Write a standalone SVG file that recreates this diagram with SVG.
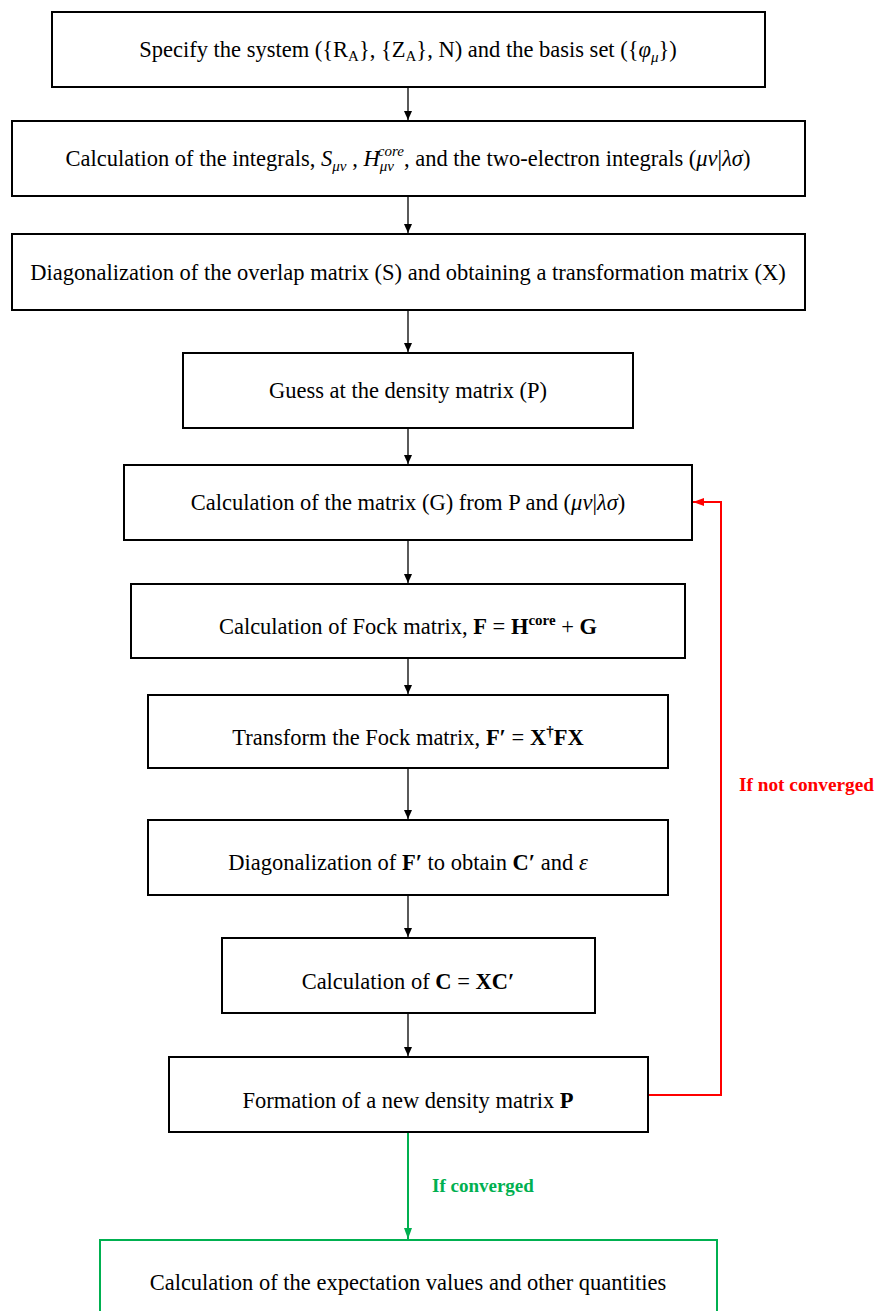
<svg xmlns="http://www.w3.org/2000/svg" width="876" height="1311" viewBox="0 0 876 1311">
<style>
.box{fill:#fff;stroke:#000;stroke-width:2}
.gbox{fill:#fff;stroke:#00B050;stroke-width:2}
.t{font-family:"Liberation Serif","Times New Roman",serif;font-size:22.5px;fill:#000;text-anchor:middle}
.m{font-style:italic}
.b{font-weight:bold}
.s{font-size:15px}
.c{stroke:#000;stroke-width:1.3;fill:none}
.red{stroke:#FF0000;stroke-width:2;fill:none}
.grn{stroke:#00B050;stroke-width:2;fill:none}
.lr{font-family:"Liberation Serif","Times New Roman",serif;font-size:19.3px;font-weight:bold;fill:#FF0000}
.lg{font-family:"Liberation Serif","Times New Roman",serif;font-size:19px;font-weight:bold;fill:#00B050}
</style>
<defs>
<marker id="ak" markerWidth="10" markerHeight="10" refX="9" refY="5" orient="auto" markerUnits="userSpaceOnUse"><path d="M0,1 L9,5 L0,9 Z" fill="#000"/></marker>
<marker id="ar" markerWidth="12" markerHeight="10" refX="11" refY="5" orient="auto" markerUnits="userSpaceOnUse"><path d="M0,1 L11,5 L0,9 Z" fill="#FF0000"/></marker>
<marker id="ag" markerWidth="12" markerHeight="10" refX="11" refY="5" orient="auto" markerUnits="userSpaceOnUse"><path d="M0,1 L11,5 L0,9 Z" fill="#00B050"/></marker>
</defs>
<g id="connectors">
<line class="c" x1="408" y1="88" x2="408" y2="120" marker-end="url(#ak)"/>
<line class="c" x1="408" y1="197" x2="408" y2="233" marker-end="url(#ak)"/>
<line class="c" x1="408" y1="311" x2="408" y2="352" marker-end="url(#ak)"/>
<line class="c" x1="408" y1="429" x2="408" y2="464" marker-end="url(#ak)"/>
<line class="c" x1="408" y1="541" x2="408" y2="583" marker-end="url(#ak)"/>
<line class="c" x1="408" y1="659" x2="408" y2="694" marker-end="url(#ak)"/>
<line class="c" x1="408" y1="769" x2="408" y2="819" marker-end="url(#ak)"/>
<line class="c" x1="408" y1="896" x2="408" y2="937" marker-end="url(#ak)"/>
<line class="c" x1="408" y1="1014" x2="408" y2="1056" marker-end="url(#ak)"/>
<polyline class="red" points="649,1095 721,1095 721,502 693,502" marker-end="url(#ar)"/>
<line class="grn" x1="408" y1="1133" x2="408" y2="1239" marker-end="url(#ag)"/>
<text class="lr" x="739" y="791">If not converged</text>
<text class="lg" x="432" y="1192">If converged</text>
</g>
<g id="n1"><rect class="box" x="52" y="12" width="713" height="75"/>
<text class="t" x="408" y="57">Specify the system ({R<tspan class="s" dy="4">A</tspan><tspan dy="-4">}, {Z</tspan><tspan class="s" dy="4">A</tspan><tspan dy="-4">}, N) and the basis set ({</tspan><tspan class="m">φ</tspan><tspan class="s m" dy="5">μ</tspan><tspan dy="-5">})</tspan></text></g>
<g id="n2"><rect class="box" x="12" y="121" width="793" height="75"/>
<text class="t" x="408" y="166">Calculation of the integrals, <tspan class="m">S</tspan><tspan class="s m" dy="5">μν</tspan><tspan dy="-5"> , </tspan><tspan class="m">H</tspan><tspan class="s m" dy="5">μν</tspan><tspan class="s m" dx="-16" dy="-15">core</tspan><tspan dy="10">, and the two-electron integrals (</tspan><tspan class="m">μν</tspan>|<tspan class="m">λσ</tspan>)</text></g>
<g id="n3"><rect class="box" x="12" y="234" width="793" height="76"/>
<text class="t" x="408" y="280">Diagonalization of the overlap matrix (S) and obtaining a transformation matrix (X)</text></g>
<g id="n4"><rect class="box" x="183" y="353" width="450" height="75"/>
<text class="t" x="408" y="398">Guess at the density matrix (P)</text></g>
<g id="n5"><rect class="box" x="124" y="465" width="568" height="75"/>
<text class="t" x="408" y="510">Calculation of the matrix (G) from P and (<tspan class="m">μν</tspan>|<tspan class="m">λσ</tspan>)</text></g>
<g id="n6"><rect class="box" x="131" y="584" width="554" height="74"/>
<text class="t" x="408" y="634">Calculation of Fock matrix, <tspan class="b">F</tspan> = <tspan class="b">H</tspan><tspan class="s b" dy="-9">core</tspan><tspan dy="9"> + </tspan><tspan class="b">G</tspan></text></g>
<g id="n7"><rect class="box" x="148" y="695" width="520" height="73"/>
<text class="t" x="408" y="745">Transform the Fock matrix, <tspan class="b">F′</tspan> = <tspan class="b">X</tspan><tspan class="s b" dy="-9">†</tspan><tspan class="b" dy="9">FX</tspan></text></g>
<g id="n8"><rect class="box" x="148" y="820" width="520" height="75"/>
<text class="t" x="408" y="870">Diagonalization of  <tspan class="b">F′</tspan> to obtain  <tspan class="b">C′</tspan> and <tspan class="m">ε</tspan></text></g>
<g id="n9"><rect class="box" x="222" y="938" width="373" height="75"/>
<text class="t" x="408" y="989">Calculation of <tspan class="b">C</tspan> = <tspan class="b">XC′</tspan></text></g>
<g id="n10"><rect class="box" x="169" y="1057" width="479" height="75"/>
<text class="t" x="408" y="1108">Formation of a new density matrix <tspan class="b">P</tspan></text></g>
<g id="n11"><rect class="gbox" x="100" y="1240" width="617" height="90"/>
<text class="t" x="408" y="1290">Calculation of the expectation values and other quantities</text></g>
</svg>
